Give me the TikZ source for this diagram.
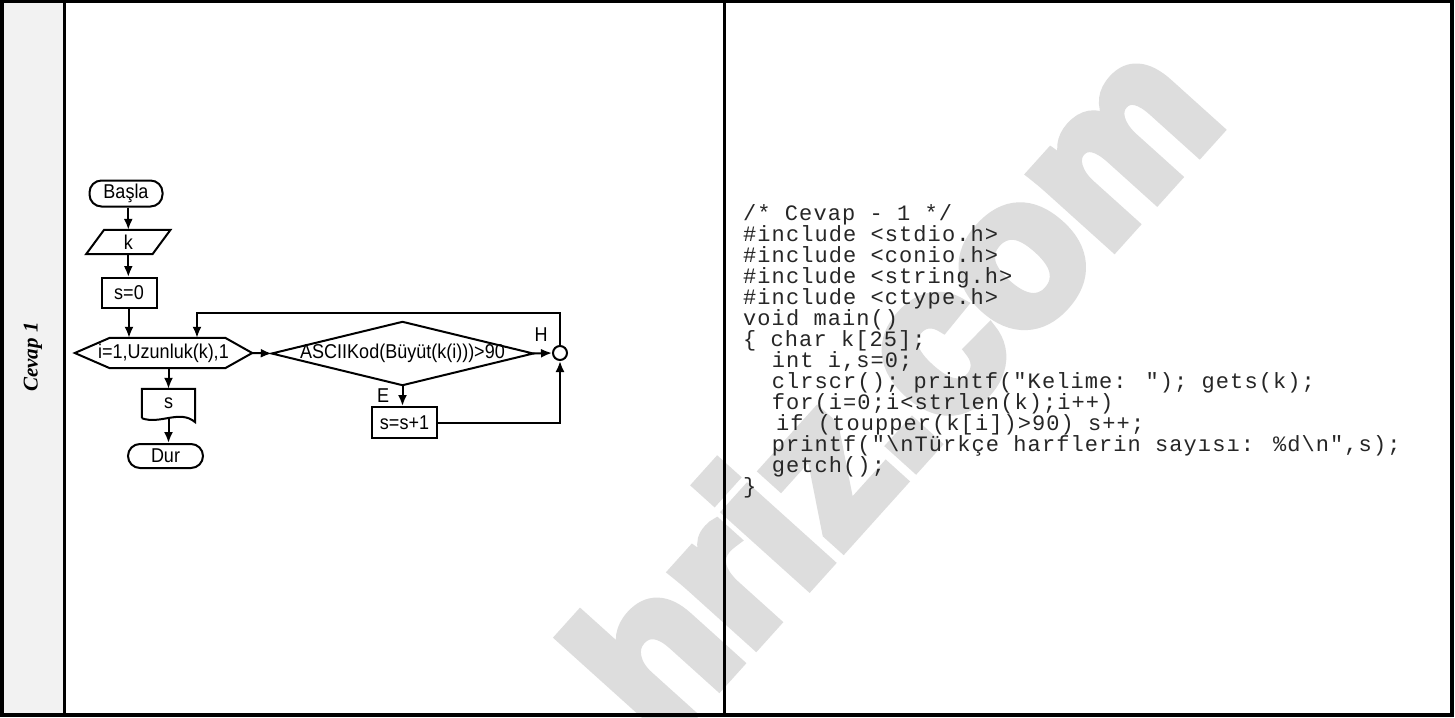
\documentclass[tikz,border=0pt]{standalone}
\usepackage{fontspec}
\setmainfont{Liberation Sans}
\newfontfamily\fcfont{Liberation Sans}[FakeStretch=0.9]
\newfontfamily\wmfont{Liberation Sans Bold}[FakeBold=6]
\newfontfamily\codefont{Liberation Mono}[LetterSpace=4.9]
\newfontfamily\capfont{Liberation Serif}
\usetikzlibrary{arrows.meta}
\definecolor{stripgray}{HTML}{F2F2F2}
\definecolor{wmgray}{HTML}{DDDDDD}
\begin{document}
\begin{tikzpicture}[x=1pt,y=-1pt,
  fc/.style={font=\fcfont\fontsize{20}{22}\selectfont},
  boxshape/.style={draw, line width=2pt, inner sep=0pt, fc},
  termshape/.style={boxshape, rounded corners=12pt},
  frameshape/.style={inner sep=0pt, fc},
  outline/.style={line width=2pt, line join=miter},
  link/.style={line width=2pt},
  arr/.style={link, -{Latex[length=11pt,width=9pt]}},
  codeline/.style={anchor=base west, inner sep=0pt, text=black!85, font=\codefont\fontsize{22}{21}\selectfont},
  border/.style={line width=4pt},
  lbl/.style={inner sep=0pt, fc}
]
\useasboundingbox (0,0) rectangle (1455,717);
\fill[white] (0,0) rectangle (1455,717);
\fill[stripgray] (2,2) rectangle (64,715);
% watermark
\node[rotate=48, text=wmgray, inner sep=0pt, font=\wmfont\fontsize{205}{205}\selectfont] (wm) at (890,385) {hriz.com};
% frame
\draw[border] (2.2,1) rectangle (1452,715);
\draw[line width=3pt] (64.5,0) -- (64.5,717);
\draw[line width=3pt] (724.5,0) -- (724.5,717);
% side caption
\node[rotate=90, inner sep=0pt, font=\capfont\fontsize{21}{24}\selectfont\bfseries\itshape] (cap) at (33,357) {Cevap 1};
% flowchart
\node[termshape, minimum width=73, minimum height=26] (basla) at (126,193.5) {Başla};
\node[frameshape, minimum width=84, minimum height=24] (k) at (128.3,242) {k};
\draw[outline] ([xshift=18pt]k.north west) -- (k.north east) -- ([xshift=-18pt]k.south east) -- (k.south west) -- cycle;
\node[boxshape, minimum width=55, minimum height=30] (s0) at (129,293) {s=0};
\node[frameshape, minimum width=177, minimum height=30] (hex) at (163.5,353) {i=1,Uzunluk(k),1};
\draw[outline] (hex.west) -- ([xshift=35pt]hex.north west) -- ([xshift=-27pt]hex.north east) -- (hex.east) -- ([xshift=-27pt]hex.south east) -- ([xshift=35pt]hex.south west) -- cycle;
\node[frameshape, minimum width=261, minimum height=63] (dia) at (402.5,353.5) {ASCIIKod(Büyüt(k(i)))>90};
\draw[outline] (dia.west) -- (dia.north) -- (dia.east) -- (dia.south) -- cycle;
\node[circle, draw, line width=2pt, minimum size=14pt, inner sep=0pt] (circ) at (560,353) {};
\node[boxshape, minimum width=65, minimum height=31] (inc) at (404.5,422.5) {s=s+1};
\node[frameshape, minimum width=53, minimum height=29] (out) at (168.5,403.5) {s};
\draw[outline] (out.south west) -- (out.north west) -- (out.north east) -- ([yshift=-4pt]out.south east) .. controls (180,409) and (160,425) .. (out.south west);
\node[termshape, minimum width=75, minimum height=24] (dur) at (165.5,456) {Dur};
\node[lbl] (lblH) at (541,335) {H};
\node[lbl] (lblE) at (383,396) {E};
\coordinate (lp) at (197,313);
% connectors
\draw[arr] (basla.south -| k.north) -- (k.north);
\draw[arr] (k) -- (k |- s0.north);
\draw[arr] (s0) -- (s0 |- hex.north);
\draw[arr] (hex.east) -- (dia.west);
\draw[arr] (dia.east) -- (circ.west);
\draw[arr] (dia.south) -- (dia.south |- inc.north);
\draw[arr] (inc.east) -| (circ.south);
\draw[arr] (circ.north) |- (lp) -- (lp |- hex.north);
\draw[arr] (hex.south -| out.north) -- (out.north);
\draw[arr] (out.south) -- (out.south |- dur.north);
% code
\node[codeline] (c1) at (743,220) {/* Cevap - 1 */};
\node[codeline] (c2) at (743,241) {\#include <stdio.h>};
\node[codeline] (c3) at (743,262) {\#include <conio.h>};
\node[codeline] (c4) at (743,283) {\#include <string.h>};
\node[codeline] (c5) at (743,304) {\#include <ctype.h>};
\node[codeline] (c6) at (743,325) {void main()};
\node[codeline] (c7) at (743,346) {\{ char k[25];};
\node[codeline] (c8) at (743,367) {\hspace*{28.6pt}int i,s=0;};
\node[codeline] (c9) at (743,388) {\hspace*{28.6pt}clrscr(); printf("Kelime: "); gets(k);};
\node[codeline] (c10) at (743,409) {\hspace*{28.6pt}for(i=0;i<strlen(k);i++)};
\node[codeline] (c11) at (743,430) {\hspace*{33pt}if (toupper(k[i])>90) s++;};
\node[codeline] (c12) at (743,451) {\hspace*{28.6pt}printf("\textbackslash nTürkçe harflerin sayısı: \%d\textbackslash n",s);};
\node[codeline] (c13) at (743,472) {\hspace*{28.6pt}getch();};
\node[codeline] (c14) at (743,493) {\}};
\end{tikzpicture}
\end{document}
